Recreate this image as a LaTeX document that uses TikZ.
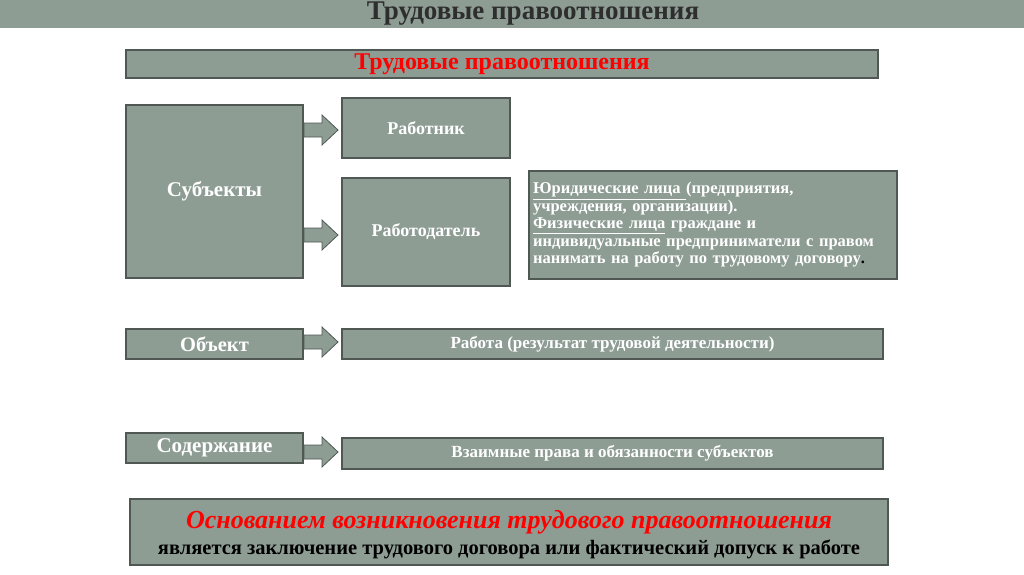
\documentclass[tikz,border=0pt]{standalone}
\usepackage{fontspec}
\setmainfont{Liberation Serif}
\begin{document}
\begin{tikzpicture}[x=1pt,y=-1pt,
  box/.style={draw=boxline,line width=1.2pt,fill=boxfill,text=white,font=\bfseries,align=center},
  barrow/.style={draw=boxline,line width=0.8pt,fill=boxfill}]
\definecolor{boxfill}{HTML}{8E9D94}
\definecolor{boxline}{HTML}{4F5853}
\definecolor{titlegray}{HTML}{2E2E2E}
\useasboundingbox (0,0) rectangle (1024,574);
\fill[boxfill] (0,0) rectangle (1024,28);
\node[text=titlegray,font=\bfseries\fontsize{27}{28}\selectfont] (title) at (533,14) {Трудовые правоотношения};
\node[box,minimum width=752,minimum height=28,text=red,font=\bfseries\fontsize{24}{26}\selectfont] (hdr) at (502,64) {Трудовые правоотношения};
\node[box,minimum width=177,minimum height=173,font=\bfseries\fontsize{21}{23}\selectfont] (subj) at (214.5,191.5) {Субъекты};
\node[box,minimum width=168,minimum height=60,font=\bfseries\fontsize{18}{20}\selectfont] (rab) at (426,128) {Работник};
\node[box,minimum width=168,minimum height=108,font=\bfseries\fontsize{18}{20}\selectfont] (rabd) at (426,232) {Работодатель};
\node[box,minimum width=368,minimum height=108,text width=360,inner sep=4pt,align=left,font=\bfseries\fontsize{16.5}{17.5}\selectfont] (desc) at (713,225) {\underline{Юридические лица }(предприятия,\\учреждения, организации).\\\underline{Физические лица} граждане и\\индивидуальные предприниматели с правом\\нанимать на работу по трудовому договору\textcolor{black}{.}};
\node[box,minimum width=177,minimum height=30,font=\bfseries\fontsize{20.5}{22}\selectfont] (obj) at (214.5,344) {Объект};
\node[box,minimum width=541,minimum height=30,font=\bfseries\fontsize{17}{19}\selectfont] (work) at (612.5,344) {Работа (результат трудовой деятельности)};
\node[box,minimum width=177,minimum height=30,font=\bfseries\fontsize{21}{22}\selectfont] (cont) at (214.5,448) {Содержание};
\node[box,minimum width=541,minimum height=31,font=\bfseries\fontsize{17}{19}\selectfont] (rights) at (612.5,453.5) {Взаимные права и обязанности субъектов};
\node[box,minimum width=758,minimum height=66] (basis) at (509,532) {};
\node[text=red,font=\bfseries\itshape\fontsize{26}{28}\selectfont] (b1) at (509,522) {Основанием возникновения трудового правоотношения};
\node[text=black,font=\bfseries\fontsize{20.5}{22}\selectfont] (b2) at (509,549) {является заключение трудового договора или фактический допуск к работе};
\foreach \y in {130,235,342,452}{
  \draw[barrow] (304,\y-7) -- (322,\y-7) -- (322,\y-15) -- (338,\y) -- (322,\y+15) -- (322,\y+7) -- (304,\y+7) -- cycle;
}
\end{tikzpicture}
\end{document}
